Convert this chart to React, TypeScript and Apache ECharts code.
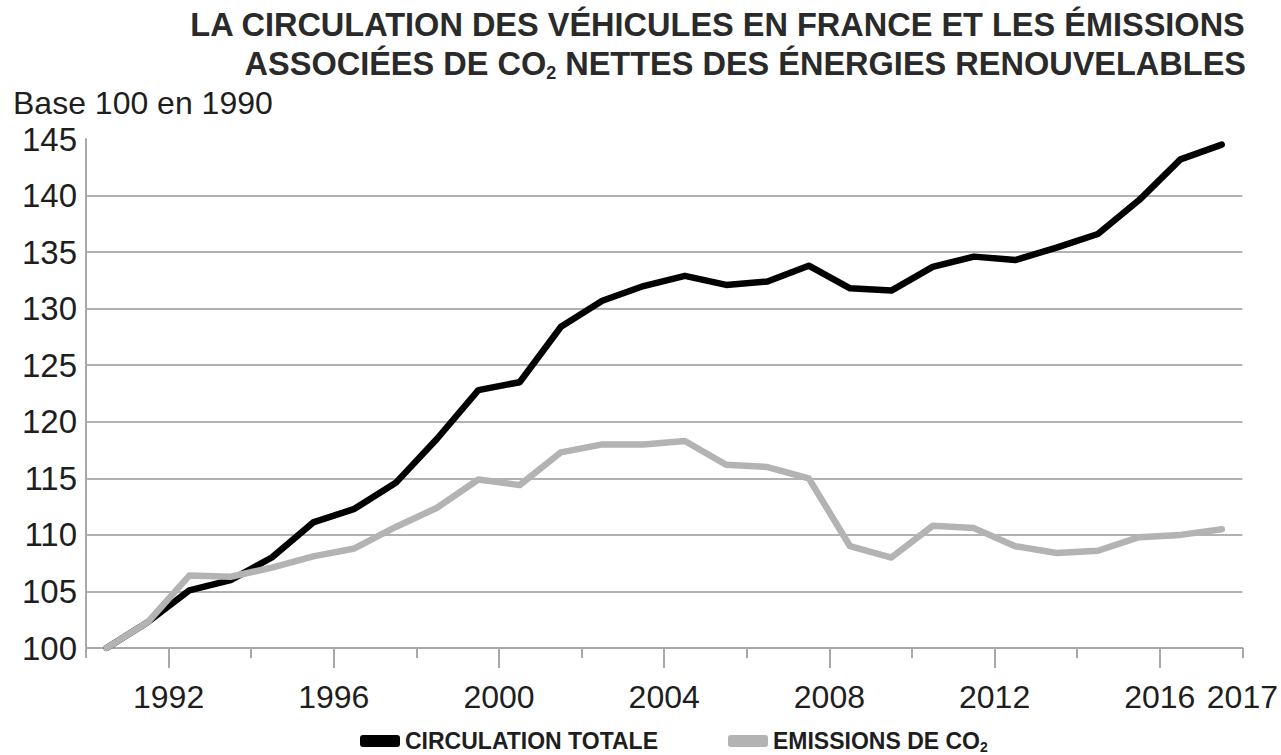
import React, { useEffect, useRef } from "react";
import * as echarts from "echarts";

const years = [
  "1990", "1991", "1992", "1993", "1994", "1995", "1996", "1997", "1998", "1999",
  "2000", "2001", "2002", "2003", "2004", "2005", "2006", "2007", "2008", "2009",
  "2010", "2011", "2012", "2013", "2014", "2015", "2016", "2017",
];

const circulationTotale = [
  100, 102.3, 105.1, 106.0, 108.0, 111.1, 112.3, 114.6, 118.5, 122.8,
  123.5, 128.4, 130.7, 132.0, 132.9, 132.1, 132.4, 133.8, 131.8, 131.6,
  133.7, 134.6, 134.3, 135.4, 136.6, 139.6, 143.2, 144.5,
];

const emissionsCO2 = [
  100, 102.3, 106.4, 106.3, 107.1, 108.1, 108.8, 110.7, 112.4, 114.9,
  114.4, 117.3, 118.0, 118.0, 118.3, 116.2, 116.0, 115.0, 109.0, 108.0,
  110.8, 110.6, 109.0, 108.4, 108.6, 109.8, 110.0, 110.5,
];

// tick boundaries (start of each year + end of the period)
const boundaryTicks = [...years, "fin"];
const lastLabel = "2017";

const yTicks = [100, 105, 110, 115, 120, 125, 130, 135, 140, 145];

const seriesNames = ["CIRCULATION TOTALE", "EMISSIONS DE CO₂"];
const titleLines = [
  "LA CIRCULATION DES VÉHICULES EN FRANCE ET LES ÉMISSIONS",
  "ASSOCIÉES DE CO₂ NETTES DES ÉNERGIES RENOUVELABLES",
];
const unitText = "Base 100 en 1990";

const FONT = "'Liberation Sans', Arial, Helvetica, sans-serif";
const GRID_COLOR = "#b2b2b2";
const AXIS_COLOR = "#a8a8a8";
const TEXT_COLOR = "#1e1e1e";
const TITLE_COLOR = "#2a2a2a";

const sub = (s: string) => s.replace(/₂/g, "{s|2}");

export default function App() {
  const ref = useRef<HTMLDivElement>(null);

  useEffect(() => {
    if (!ref.current) return;
    const chart = echarts.init(ref.current, undefined, { renderer: "svg" });
    const splitColors = yTicks.map((t) => (t === yTicks[yTicks.length - 1] ? "rgba(0,0,0,0)" : GRID_COLOR));

    const titleGraphics = titleLines.map((line, i) => ({
      type: "text",
      right: 35,
      top: 7 + i * 39,
      style: {
        text: sub(line),
        fontFamily: FONT,
        fontSize: 32.5,
        fontWeight: "bold",
        fill: TITLE_COLOR,
        lineHeight: 36,
        rich: {
          s: {
            fontFamily: FONT,
            fontSize: 18,
            fontWeight: "bold",
            fill: TITLE_COLOR,
            lineHeight: 4,
            verticalAlign: "bottom",
          },
        },
      },
    }));

    chart.setOption({
      animation: false,
      backgroundColor: "#ffffff",
      textStyle: { fontFamily: FONT },
      title: {
        text: unitText,
        left: 13,
        top: 87,
        padding: 0,
        textStyle: { fontFamily: FONT, fontSize: 32, fontWeight: "normal", color: TEXT_COLOR },
      },
      graphic: titleGraphics,
      legend: {
        data: seriesNames,
        left: 355,
        top: 723,
        icon: "roundRect",
        itemWidth: 40,
        itemHeight: 12,
        itemGap: 70,
        formatter: (name: string) => sub(name),
        textStyle: {
          fontFamily: FONT,
          fontSize: 23,
          fontWeight: "bold",
          color: TEXT_COLOR,
          lineHeight: 26,
          rich: {
            s: {
              fontFamily: FONT,
              fontSize: 14,
              fontWeight: "bold",
              color: TEXT_COLOR,
              lineHeight: 8,
              verticalAlign: "bottom",
            },
          },
        },
      },
      grid: { left: 86, right: 38, top: 139, bottom: 107, containLabel: false },
      xAxis: [
        {
          type: "category",
          data: years,
          boundaryGap: true,
          show: false,
        },
        {
          type: "category",
          data: boundaryTicks,
          boundaryGap: false,
          position: "bottom",
          axisLine: { show: true, onZero: false, lineStyle: { color: AXIS_COLOR, width: 2 } },
          axisTick: {
            show: true,
            interval: (i: number) => i % 2 === 0,
            length: 10,
            lineStyle: { color: AXIS_COLOR, width: 2 },
          },
          axisLabel: { show: false },
          splitLine: { show: false },
        },
        {
          type: "category",
          data: boundaryTicks,
          boundaryGap: false,
          position: "bottom",
          axisLine: { show: false, onZero: false },
          axisTick: {
            show: true,
            interval: (i: number) => i % 4 === 2,
            length: 20,
            lineStyle: { color: AXIS_COLOR, width: 2 },
          },
          axisLabel: {
            show: true,
            interval: (i: number) => i % 4 === 2 || i === boundaryTicks.length - 1,
            formatter: (v: string, i: number) => (i === boundaryTicks.length - 1 ? lastLabel : v),
            fontFamily: FONT,
            fontSize: 32,
            color: TEXT_COLOR,
            margin: 33,
          },
          splitLine: { show: false },
        },
      ],
      yAxis: {
        type: "value",
        min: 100,
        max: 145,
        interval: 5,
        axisLine: { show: true, lineStyle: { color: AXIS_COLOR, width: 2 } },
        axisTick: { show: false },
        axisLabel: {
          fontFamily: FONT,
          fontSize: 33,
          color: TEXT_COLOR,
          margin: 9,
        },
        splitLine: { show: true, lineStyle: { color: splitColors, width: 2 } },
      },
      series: [
        {
          name: seriesNames[0],
          type: "line",
          xAxisIndex: 0,
          data: circulationTotale,
          symbol: "none",
          color: "#000000",
          lineStyle: { color: "#000000", width: 6.5, join: "round", cap: "round" },
        },
        {
          name: seriesNames[1],
          type: "line",
          xAxisIndex: 0,
          data: emissionsCO2,
          symbol: "none",
          color: "#b3b3b3",
          lineStyle: { color: "#b3b3b3", width: 6.5, join: "round", cap: "round" },
        },
      ],
    });

    return () => chart.dispose();
  }, []);

  return (
    <div
      ref={ref}
      style={{ position: "fixed", left: 0, top: 0, width: 1281, height: 755, background: "#fff" }}
    />
  );
}
